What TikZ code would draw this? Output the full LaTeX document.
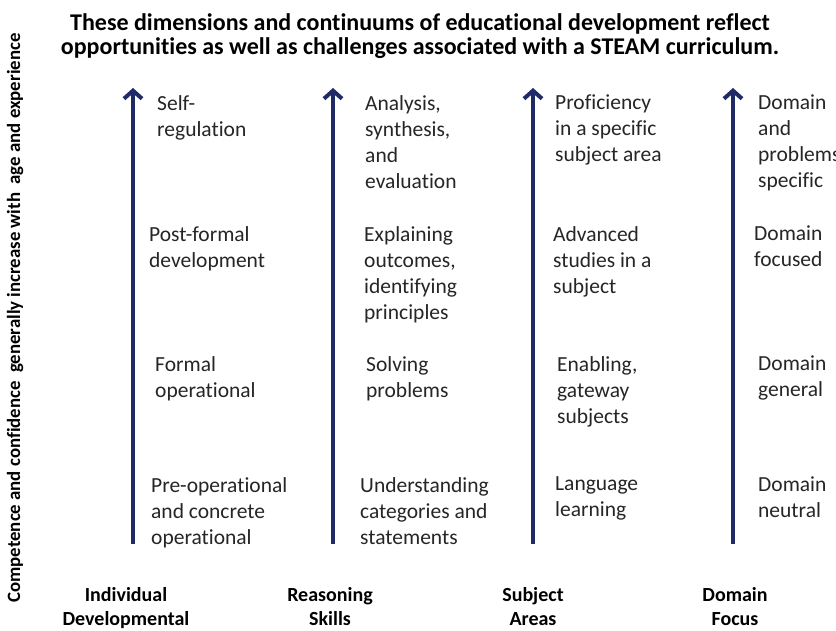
\documentclass[tikz,border=0pt]{standalone}
\usepackage{fontspec}
\setmainfont{Carlito}[Ligatures=NoCommon]
\usetikzlibrary{arrows.meta}
\definecolor{navy}{HTML}{1F2A66}
\definecolor{bodytext}{HTML}{262626}
\begin{document}
\begin{tikzpicture}[x=1pt,y=-1pt,
  lbl/.style={font=\fontsize{21.5}{26}\selectfont, text=bodytext, align=left,
    anchor=north west, inner sep=0pt, execute at begin node=\strut},
  axislbl/.style={font=\bfseries\fontsize{20}{24.5}\selectfont, text=black,
    align=center, anchor=north, inner sep=0pt, execute at begin node=\strut},
  rise/.style={draw=navy, line width=4pt, -{Straight Barb[length=8pt,width=18pt]}}]
\useasboundingbox (0,0) rectangle (836,631);
\fill[white] (0,0) rectangle (836,631);

% heading
\node[font=\bfseries\fontsize{24}{23.5}\selectfont, align=center, inner sep=0pt,
  anchor=north, execute at begin node=\strut] (title) at (420,13.5)
  {These dimensions and continuums of educational development reflect\\
   opportunities as well as challenges associated with a STEAM curriculum.};

% vertical axis caption
\node[font=\bfseries\fontsize{18.8}{21}\selectfont, rotate=90, inner sep=0pt] (axis) at (15,318)
  {Competence and confidence\ \ generally increase with\ \ age and experience};

% continuum arrows
\foreach \n/\x in {a/133, b/333, c/533, d/733}{
  \coordinate (\n0) at (\x,544);
  \coordinate (\n1) at (\x,88);
  \draw[rise] (\n0) -- (\n1);
}

% Individual developmental
\node[lbl] (a4) at (157,95)  {Self-\\regulation};
\node[lbl] (a3) at (149,226) {Post-formal\\development};
\node[lbl] (a2) at (155,356) {Formal\\operational};
\node[lbl] (a1) at (151,477) {Pre-operational\\and concrete\\operational};

% Reasoning skills
\node[lbl] (b4) at (365,95)  {Analysis,\\synthesis,\\and\\evaluation};
\node[lbl] (b3) at (364,226) {Explaining\\outcomes,\\identifying\\principles};
\node[lbl] (b2) at (366,356) {Solving\\problems};
\node[lbl] (b1) at (360,477) {Understanding\\categories and\\statements};

% Subject areas
\node[lbl] (c4) at (555,95)  {Proficiency\\in a specific\\subject area};
\node[lbl] (c3) at (553,226) {Advanced\\studies in a\\subject};
\node[lbl] (c2) at (557,356) {Enabling,\\gateway\\subjects};
\node[lbl] (c1) at (555,477) {Language\\learning};

% Domain focus
\node[lbl] (d4) at (758,95)  {Domain\\and\\problems\\specific};
\node[lbl] (d3) at (754,226) {Domain\\focused};
\node[lbl] (d2) at (758,356) {Domain\\general};
\node[lbl] (d1) at (758,477) {Domain\\neutral};

% dimension names
\node[axislbl] (na) at (126,587) {Individual\\Developmental};
\node[axislbl] (nb) at (330,587) {Reasoning\\Skills};
\node[axislbl] (nc) at (533,587) {Subject\\Areas};
\node[axislbl] (nd) at (735,587) {Domain\\Focus};
\end{tikzpicture}
\end{document}
